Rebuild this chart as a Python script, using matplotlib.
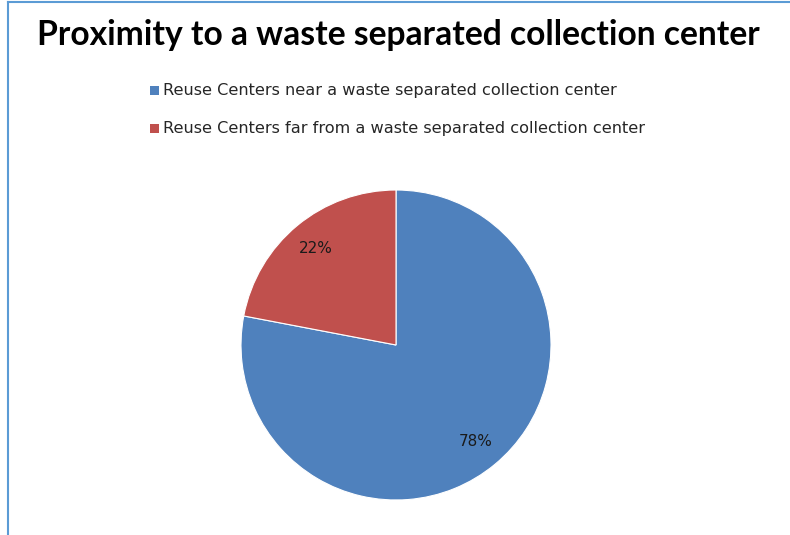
import matplotlib.pyplot as plt
from matplotlib.patches import Rectangle
from matplotlib.lines import Line2D

labels = ['Reuse Centers near a waste separated collection center',
          'Reuse Centers far from a waste separated collection center']
shares = [78, 22]
colors = ['#4F81BD', '#C0504D']

plt.rcParams['font.family'] = ['Lato', 'DejaVu Sans']

fig = plt.figure(figsize=(7.9, 5.35), dpi=100)

# pie centre ~ (396, 345) px, radius ~155 px
ax = fig.add_axes([(396 - 155) / 790, (535 - 345 - 155) / 535, 310 / 790, 310 / 535])
wedges, texts, autotexts = ax.pie(shares, colors=colors, startangle=90, counterclock=False,
                                  autopct='%1.0f%%', pctdistance=0.81,
                                  wedgeprops=dict(edgecolor='white', linewidth=0.8),
                                  textprops=dict(fontsize=11, color='#1a1a1a',
                                                 family='DejaVu Sans'))
ax.set_aspect('equal')
ax.set_xlim(-1, 1)
ax.set_ylim(-1, 1)

fig.text(398 / 790, 1 - 35 / 535, 'Proximity to a waste separated collection center',
         ha='center', va='center', fontsize=24.2, fontweight='bold', color='black')

# legend
for i, (lab, col) in enumerate(zip(labels, colors)):
    y = 1 - (90 + 38 * i) / 535
    fig.patches.append(Rectangle((150 / 790, y - 4.5 / 535), 9 / 790, 9 / 535,
                                 transform=fig.transFigure, facecolor=col, edgecolor='none'))
    fig.text(163 / 790, y, lab, ha='left', va='center', fontsize=11.6, color='#262626',
             family='DejaVu Sans')

# light blue frame on top and left
fig.lines.append(Line2D([8 / 790, 1], [1 - 2 / 535, 1 - 2 / 535], transform=fig.transFigure,
                        color='#5B9BD5', linewidth=1.5))
fig.lines.append(Line2D([8 / 790, 8 / 790], [0, 1 - 2 / 535], transform=fig.transFigure,
                        color='#5B9BD5', linewidth=1.5))

fig.savefig('out.png', dpi=100, facecolor='white')
